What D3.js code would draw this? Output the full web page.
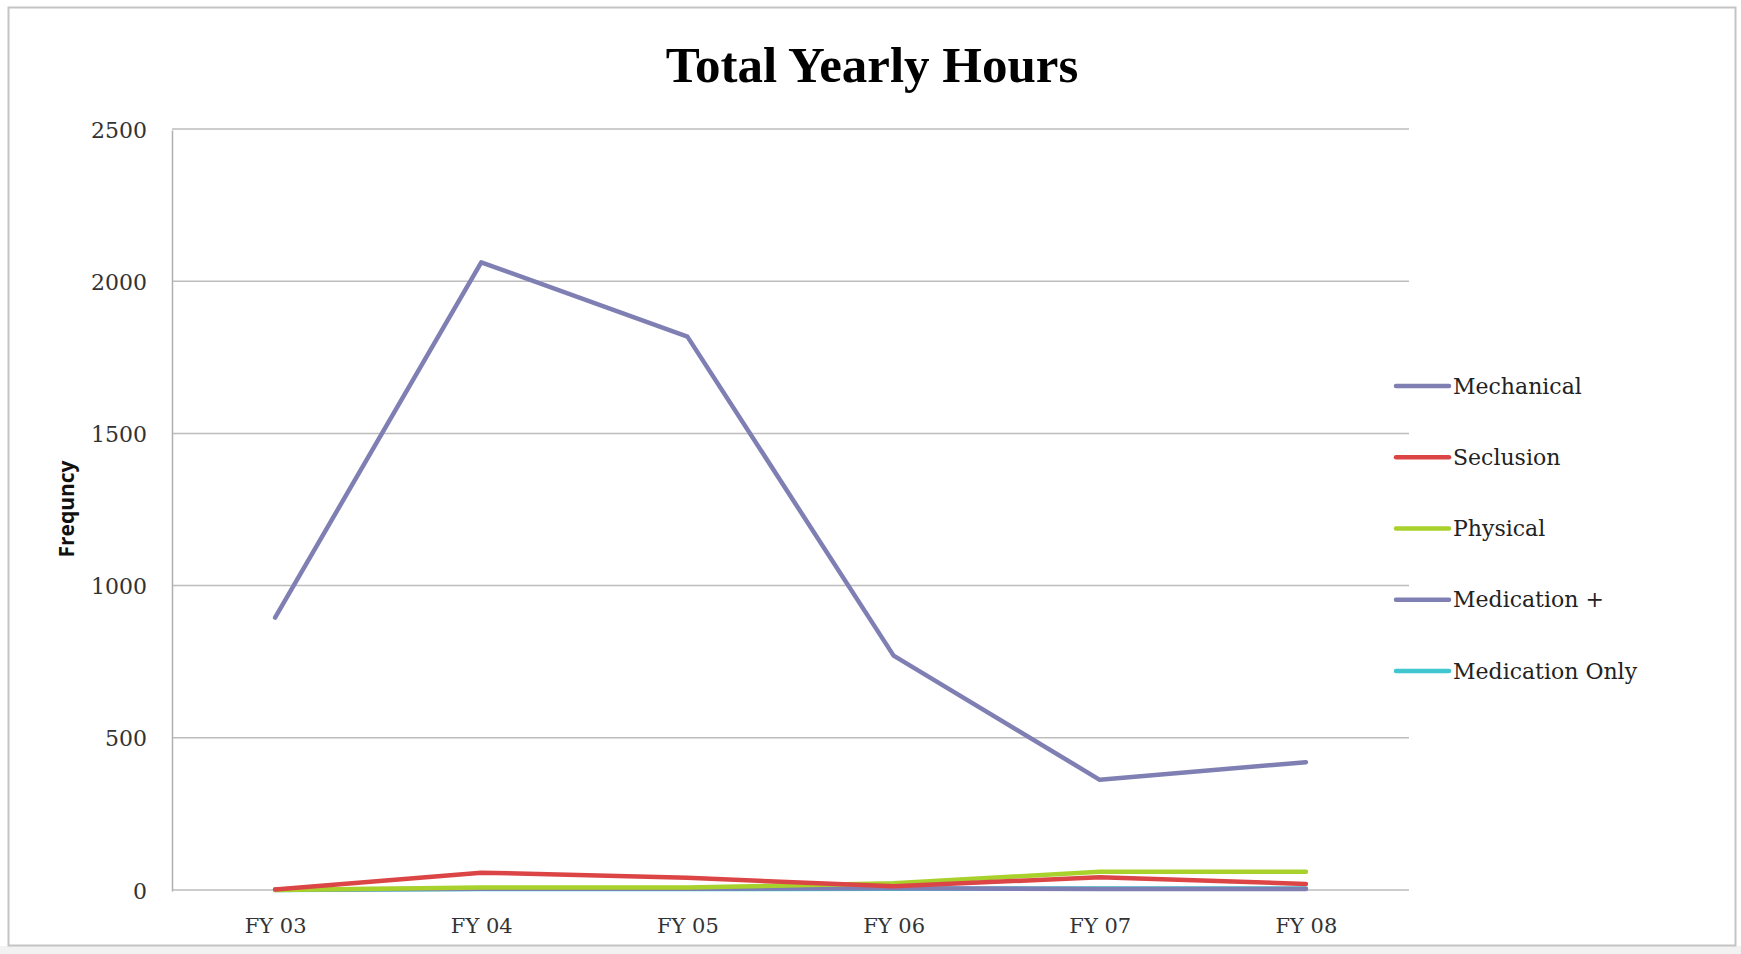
<!DOCTYPE html>
<html>
<head>
<meta charset="utf-8">
<script src="https://cdn.jsdelivr.net/npm/d3@7"></script>
<style>
  html, body { margin: 0; padding: 0; background: #ffffff; }
  svg { display: block; }
</style>
</head>
<body>
<svg id="chart" width="1741" height="954"></svg>
<script>
const categories = ["FY 03", "FY 04", "FY 05", "FY 06", "FY 07", "FY 08"];
const seriesNames = ["Mechanical", "Seclusion", "Physical", "Medication +", "Medication Only"];
const mechanical = [895, 2062, 1818, 770, 362, 420];
const seclusion = [2, 57, 40, 12, 42, 20];
const physical = [0, 8, 8, 22, 60, 60];
const medicationPlus = [2, 4, 4, 6, 3, 3];
const medicationOnly = [0, 3, 3, 4, 5, 5];
const yTicks = [0, 500, 1000, 1500, 2000, 2500];
const seriesColors = ["#7f7fb3", "#dc4545", "#a9d12b", "#7f7fb3", "#3fc6cf"];

const seriesValues = [mechanical, seclusion, physical, medicationPlus, medicationOnly];
const series = seriesNames.map((n, i) => ({ name: n, values: seriesValues[i], color: seriesColors[i] }));

const serif = "'DejaVu Serif', serif";
const svg = d3.select("#chart");
const W = 1741, H = 954;

// outer frame
svg.append("rect").attr("x", 0).attr("y", 946).attr("width", W).attr("height", H - 946).attr("fill", "#f2f2f2");
svg.append("rect").attr("x", 8.5).attr("y", 7.5).attr("width", 1727).attr("height", 938)
  .attr("fill", "#ffffff").attr("stroke", "#c4c4c4").attr("stroke-width", 2);

const plot = { left: 172, right: 1409, top: 129, bottom: 890 };

const x = d3.scalePoint().domain(categories).range([plot.left, plot.right]).padding(0.5);
const y = d3.scaleLinear().domain([0, 2500]).range([plot.bottom, plot.top]);

// gridlines
svg.append("g").selectAll("line").data(yTicks).join("line")
  .attr("x1", plot.left).attr("x2", plot.right)
  .attr("y1", d => y(d)).attr("y2", d => y(d))
  .attr("stroke", "#bdbdbd").attr("stroke-width", 1.5);

// y axis
const yAxis = d3.axisLeft(y).tickValues(yTicks).tickSize(0).tickPadding(25).tickFormat(d3.format("d"));
const gy = svg.append("g").attr("transform", `translate(${plot.left},1)`).call(yAxis);
gy.select(".domain").attr("stroke", "#b0b0b0").attr("stroke-width", 1.5);
gy.selectAll("text").attr("font-family", serif).attr("font-size", 22).attr("fill", "#333");

// x axis
const xAxis = d3.axisBottom(x).tickSize(0).tickPadding(28);
const gx = svg.append("g").attr("transform", `translate(0,${plot.bottom})`).call(xAxis);
gx.select(".domain").remove();
gx.selectAll("text").attr("font-family", serif).attr("font-size", 21).attr("fill", "#333");

// lines
const line = d3.line().x((d, i) => x(categories[i])).y(d => y(d));
const drawOrder = [4, 3, 2, 1, 0];
svg.append("g").selectAll("path").data(drawOrder.map(i => series[i])).join("path")
  .attr("d", d => line(d.values))
  .attr("fill", "none")
  .attr("stroke", d => d.color)
  .attr("stroke-width", 4.5)
  .attr("stroke-linejoin", "round")
  .attr("stroke-linecap", "round");

// title
svg.append("text").attr("x", 872).attr("y", 82).attr("text-anchor", "middle")
  .attr("font-family", "'Liberation Serif', serif").attr("font-weight", "bold")
  .attr("font-size", 51).attr("fill", "#000").text("Total Yearly Hours");

// y axis title
svg.append("text").attr("transform", "translate(74,509) rotate(-90)")
  .attr("text-anchor", "middle")
  .attr("font-family", "'Open Sans', 'Liberation Sans', sans-serif").attr("font-weight", "bold")
  .attr("font-size", 21).attr("fill", "#111").text("Frequncy");

// legend
const legendY = d3.scalePoint().domain(seriesNames).range([386, 671]);
const lg = svg.append("g").selectAll("g").data(series).join("g")
  .attr("transform", d => `translate(0,${legendY(d.name)})`);
lg.append("line").attr("x1", 1396).attr("x2", 1449).attr("y1", 0).attr("y2", 0)
  .attr("stroke", d => d.color).attr("stroke-width", 4.5).attr("stroke-linecap", "round");
lg.append("text").attr("x", 1453).attr("y", 0).attr("dy", "0.35em")
  .attr("font-family", serif).attr("font-size", 22).attr("fill", "#222")
  .text(d => d.name);
</script>
</body>
</html>
